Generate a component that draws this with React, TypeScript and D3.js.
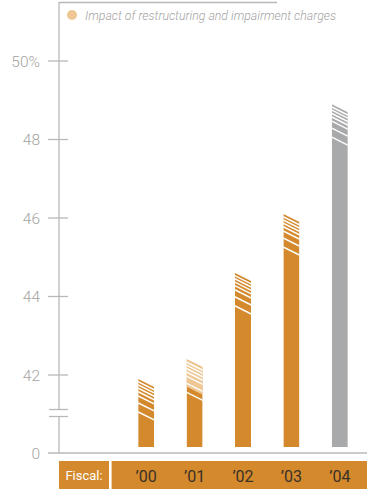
import React from "react";
import * as d3 from "d3";

// Fiscal years and gross margin (%) including restructuring and impairment charges
const years = ["’00", "’01", "’02", "’03", "’04"];
const marginValues = [41.9, 42.4, 44.6, 46.1, 48.9];
// Portion of the margin attributable to restructuring and impairment charges
const chargeValues = [0, 0.7, 0, 0, 0];
const yTicks = [42, 44, 46, 48, 50];

const W = 367;
const H = 489;

const ORANGE = "#D4892C";
const LIGHT = "#EEC795";
const GRAY = "#A8A9AB";
const AXIS = "#B8B8B8";
const LABEL = "#A3A3A3";

// Offsets (px below the bar top, at the left edge) of the white slanted stripes
const STRIPES = [2.8, 6, 9.3, 12.8, 17, 24, 33];
const SLOPE = 0.5;
const BAR_W = 16;

export default function App() {
  const axisX = 59;
  const baseY = 453;
  const barBottom = 447;

  const y = d3.scaleLinear().domain([42, 50]).range([375, 61]);
  const x = d3.scalePoint<string>().domain(years).range([122, 364]).padding(0.5);

  return (
    <svg width={W} height={H} style={{ position: "absolute", left: 0, top: 0 }}>
      <defs>
        {years.map((yr, i) => {
          const x0 = (x(yr) as number) - BAR_W / 2;
          const top = y(marginValues[i]);
          const pts = [
            [x0, top],
            [x0 + BAR_W, top + BAR_W * SLOPE],
            [x0 + BAR_W, barBottom],
            [x0, barBottom],
          ];
          return (
            <clipPath id={`bar-clip-${i}`} key={yr}>
              <polygon points={pts.map((p) => p.join(",")).join(" ")} />
            </clipPath>
          );
        })}
      </defs>

      {/* frame lines */}
      <line x1={axisX} x2={277} y1={2.5} y2={2.5} stroke={AXIS} strokeWidth={1.3} />
      <line x1={axisX} x2={axisX} y1={2} y2={409} stroke={AXIS} strokeWidth={1.3} />
      <line x1={axisX} x2={axisX} y1={417} y2={baseY} stroke={AXIS} strokeWidth={1.3} />
      <line x1={48} x2={W} y1={baseY} y2={baseY} stroke={AXIS} strokeWidth={1.3} />

      {/* axis break */}
      <line x1={49} x2={68} y1={409.5} y2={409.5} stroke={AXIS} strokeWidth={1.3} />
      <line x1={49} x2={68} y1={416.5} y2={416.5} stroke={AXIS} strokeWidth={1.3} />

      {/* ticks */}
      {yTicks.map((t) => (
        <g key={t}>
          <line x1={48} x2={68} y1={y(t)} y2={y(t)} stroke={AXIS} strokeWidth={1.3} />
          <text
            x={40}
            y={y(t)}
            dy="0.36em"
            textAnchor="end"
            fontFamily="Roboto, 'Open Sans', sans-serif"
            fontWeight={300}
            fontSize={15.5}
            fill={LABEL}
          >
            {t === 50 ? "50%" : t}
          </text>
        </g>
      ))}
      <text
        x={40}
        y={baseY}
        dy="0.36em"
        textAnchor="end"
        fontFamily="Roboto, 'Open Sans', sans-serif"
        fontWeight={300}
        fontSize={15.5}
        fill={LABEL}
      >
        0
      </text>

      {/* legend */}
      <circle cx={72} cy={15} r={5} fill={LIGHT} />
      <text
        x={85}
        y={19.5}
        fontFamily="Roboto, sans-serif"
        fontStyle="italic"
        fontWeight={300}
        fontSize={12.5}
        fill={LABEL}
        textLength={251}
        lengthAdjust="spacingAndGlyphs"
      >
        Impact of restructuring and impairment charges
      </text>

      {/* bars */}
      {years.map((yr, i) => {
        const x0 = (x(yr) as number) - BAR_W / 2;
        const top = y(marginValues[i]);
        const fill = i === years.length - 1 ? GRAY : ORANGE;
        const chargeBottom = y(marginValues[i] - chargeValues[i]);
        return (
          <g key={yr} clipPath={`url(#bar-clip-${i})`}>
            <rect x={x0} y={top - 2} width={BAR_W} height={barBottom - top + 2} fill={fill} />
            {chargeValues[i] > 0 && (
              <polygon
                points={[
                  [x0, top - 2],
                  [x0 + BAR_W, top - 2],
                  [x0 + BAR_W, chargeBottom + BAR_W * SLOPE],
                  [x0, chargeBottom],
                ]
                  .map((p) => p.join(","))
                  .join(" ")}
                fill={LIGHT}
              />
            )}
            {STRIPES.map((o, k) => (
              <line
                key={k}
                x1={x0 - 1}
                x2={x0 + BAR_W + 1}
                y1={top + o - SLOPE}
                y2={top + o + (BAR_W + 1) * SLOPE}
                stroke="#fff"
                strokeWidth={1.5}
              />
            ))}
          </g>
        );
      })}

      {/* fiscal year band */}
      <rect x={axisX} y={461} width={W - axisX} height={28} fill={ORANGE} />
      <rect x={109} y={461} width={2.6} height={28} fill="#fff" />
      <text
        x={84}
        y={480}
        textAnchor="middle"
        fontFamily="Roboto, sans-serif"
        fontSize={13}
        fill="#fff"
      >
        Fiscal:
      </text>
      {years.map((yr) => (
        <text
          key={yr}
          x={x(yr) as number}
          y={481.5}
          textAnchor="middle"
          fontFamily="Roboto, sans-serif"
          fontSize={16}
          fill="#3a3128"
        >
          {yr}
        </text>
      ))}
    </svg>
  );
}
